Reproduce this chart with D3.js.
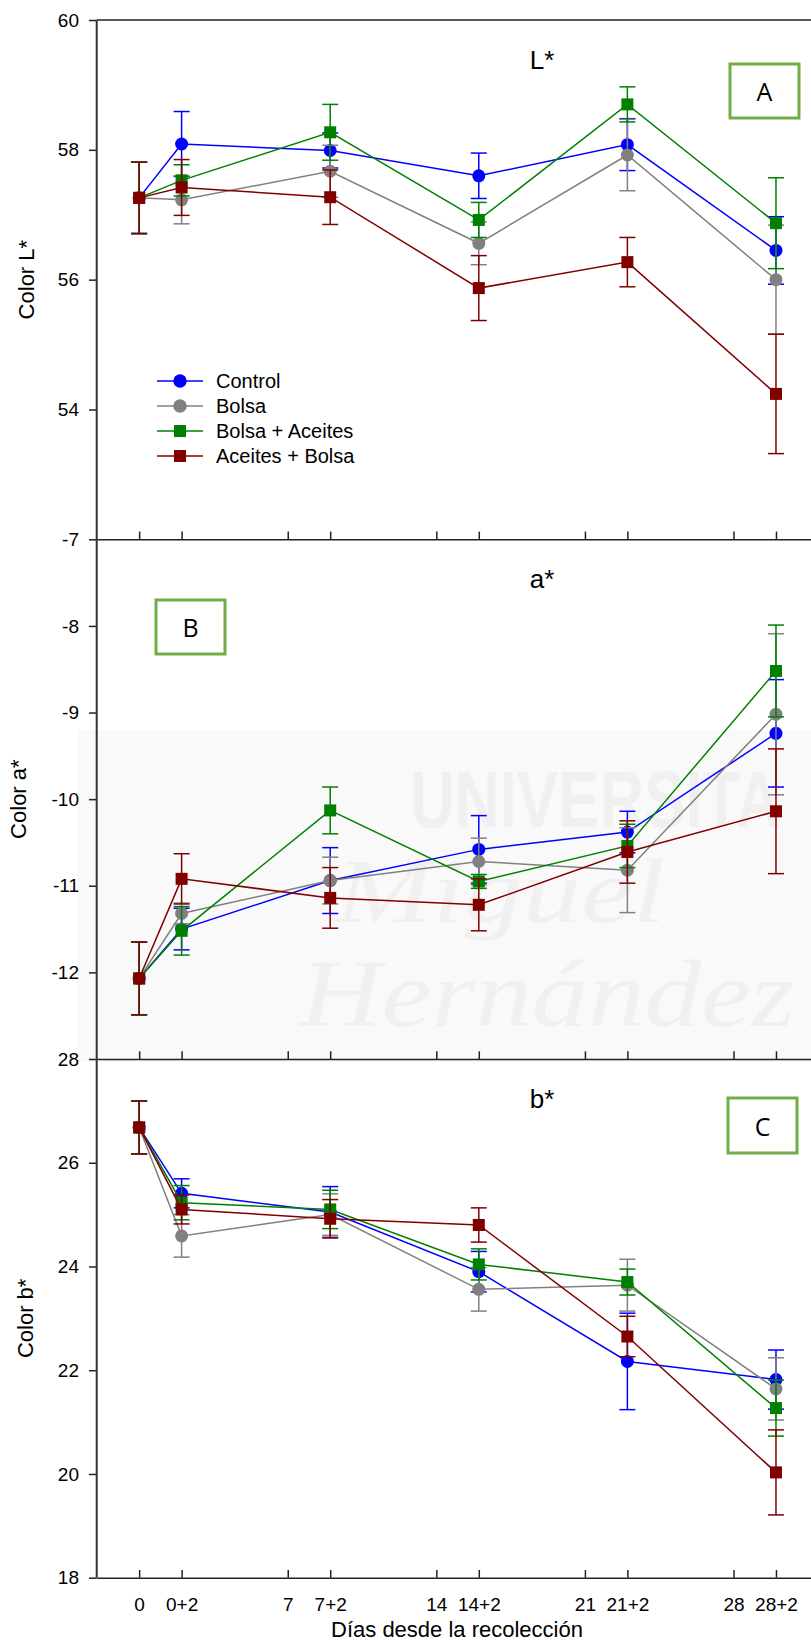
<!DOCTYPE html>
<html><head><meta charset="utf-8">
<script src="https://cdn.jsdelivr.net/npm/d3@7"></script>
<style>html,body{margin:0;padding:0;background:#fff}svg{display:block}text{font-family:"Liberation Sans",Arial,sans-serif}</style>
</head><body><svg id="chart" width="811" height="1640"></svg>
<script>
const days = [0, 2, 9, 16, 23, 30];
const seriesNames = ["Control", "Bolsa", "Bolsa + Aceites", "Aceites + Bolsa"];
const seriesColors = ["#0000ff", "#808080", "#008000", "#800000"];
const seriesShapes = ["circle", "circle", "square", "square"];
const xTickValues = [0, 2, 7, 9, 14, 16, 21, 23, 28, 30];
const xTickLabels = ["0", "0+2", "7", "7+2", "14", "14+2", "21", "21+2", "28", "28+2"];

const L_control = [57.26, 58.09, 57.99, 57.60, 58.08, 56.45];
const L_bolsa   = [57.26, 57.23, 57.67, 56.56, 57.92, 56.00];
const L_bolsaAc = [57.26, 57.53, 58.27, 56.92, 58.70, 56.87];
const L_acBolsa = [57.26, 57.42, 57.27, 55.87, 56.27, 54.24];
const L_control_err = [0.55, 0.50, 0.27, 0.35, 0.40, 0.52];
const L_bolsa_err   = [0.55, 0.37, 0.40, 0.33, 0.55, 0.84];
const L_bolsaAc_err = [0.55, 0.24, 0.43, 0.27, 0.27, 0.70];
const L_acBolsa_err = [0.55, 0.43, 0.42, 0.50, 0.38, 0.92];

const a_control = [-12.07, -11.50, -10.94, -10.58, -10.38, -9.24];
const a_bolsa   = [-12.07, -11.32, -10.94, -10.72, -10.82, -9.02];
const a_bolsaAc = [-12.07, -11.52, -10.13, -10.95, -10.54, -8.52];
const a_acBolsa = [-12.07, -10.92, -11.14, -11.22, -10.61, -10.14];
const a_control_err = [0.42, 0.24, 0.38, 0.39, 0.24, 0.62];
const a_bolsa_err   = [0.42, 0.12, 0.27, 0.27, 0.49, 0.93];
const a_bolsaAc_err = [0.42, 0.28, 0.27, 0.08, 0.25, 0.53];
const a_acBolsa_err = [0.42, 0.29, 0.35, 0.30, 0.36, 0.72];

const b_control = [26.68, 25.41, 25.05, 23.90, 22.17, 21.82];
const b_bolsa   = [26.68, 24.59, 25.00, 23.56, 23.64, 21.64];
const b_bolsaAc = [26.68, 25.23, 25.10, 24.04, 23.70, 21.27];
const b_acBolsa = [26.68, 25.10, 24.92, 24.80, 22.65, 20.03];
const b_control_err = [0.51, 0.28, 0.49, 0.39, 0.93, 0.57];
const b_bolsa_err   = [0.51, 0.41, 0.40, 0.42, 0.50, 0.60];
const b_bolsaAc_err = [0.51, 0.33, 0.37, 0.30, 0.25, 0.54];
const b_acBolsa_err = [0.51, 0.28, 0.37, 0.33, 0.39, 0.82];

const ticksL = [54, 56, 58, 60];
const ticksA = [-12, -11, -10, -9, -8, -7];
const ticksB = [18, 20, 22, 24, 26, 28];

const svg = d3.select("#chart");
const X0 = 96.7, X1 = 811;
const x = d3.scaleLinear().domain([-2, 31.65]).range([X0, X1]);

const panels = [
  {title: "L*", ylab: "Color L*", yl: 26, domain: [52, 60], range: [539.3, 20], ticks: ticksL,
   vals: [L_control, L_bolsa, L_bolsaAc, L_acBolsa], errs: [L_control_err, L_bolsa_err, L_bolsaAc_err, L_acBolsa_err],
   box: {letter: "A", x: 730, y: 64, w: 69, h: 54}},
  {title: "a*", ylab: "Color a*", yl: 18, domain: [-13, -7], range: [1059, 539.3], ticks: ticksA,
   vals: [a_control, a_bolsa, a_bolsaAc, a_acBolsa], errs: [a_control_err, a_bolsa_err, a_bolsaAc_err, a_acBolsa_err],
   box: {letter: "B", x: 156, y: 600, w: 69, h: 54}},
  {title: "b*", ylab: "Color b*", yl: 25, domain: [18, 28], range: [1577.7, 1059], ticks: ticksB,
   vals: [b_control, b_bolsa, b_bolsaAc, b_acBolsa], errs: [b_control_err, b_bolsa_err, b_bolsaAc_err, b_acBolsa_err],
   box: {letter: "C", x: 728, y: 1098, w: 69, h: 55}}
];

// watermark (very faint)
const wm = svg.append("g");
wm.append("rect").attr("x", 77).attr("y", 730).attr("width", 734).attr("height", 332).attr("fill", "#f9f9f9");
wm.append("text").attr("transform", "translate(410,827) scale(1,1.3)").attr("font-size", 62).attr("font-weight", "bold")
  .attr("fill", "#f0f0f0").text("UNIVERSITA");
wm.append("text").attr("x", 335).attr("y", 922).attr("font-size", 92).attr("font-style", "italic")
  .style("font-family", "'Liberation Serif',serif").attr("textLength", 330).attr("lengthAdjust", "spacingAndGlyphs")
  .attr("fill", "#f0f0f0").text("Miguel");
wm.append("text").attr("x", 300).attr("y", 1026).attr("font-size", 96).attr("font-style", "italic")
  .style("font-family", "'Liberation Serif',serif").attr("textLength", 495).attr("lengthAdjust", "spacingAndGlyphs")
  .attr("fill", "#f0f0f0").text("Hernández");

panels.forEach((p, pi) => {
  const y = d3.scaleLinear().domain(p.domain).range(p.range);
  const g = svg.append("g");
  const ya = g.append("g").attr("transform", `translate(${X0},0)`)
    .call(d3.axisLeft(y).tickValues(p.ticks).tickFormat(d => String(d)).tickSize(7.7).tickPadding(10));
  ya.select(".domain").remove();
  ya.selectAll(".tick line").attr("stroke", "#222").attr("stroke-width", 1.5);
  ya.selectAll("text").attr("font-size", 19).attr("fill", "#000").style("font-family", "'Liberation Sans',Arial,sans-serif");
  const xa = g.append("g").attr("transform", `translate(0,${p.range[0]})`)
    .call(d3.axisBottom(x).tickValues(xTickValues).tickSizeInner(-7.7).tickSizeOuter(0).tickPadding(20)
      .tickFormat((d, i) => pi === 2 ? xTickLabels[i] : ""));
  xa.select(".domain").attr("stroke", "#222").attr("stroke-width", 1.5);
  xa.selectAll(".tick line").attr("stroke", "#222").attr("stroke-width", 1.5);
  xa.selectAll("text").attr("font-size", 19).attr("fill", "#000").style("font-family", "'Liberation Sans',Arial,sans-serif");
  if (pi === 0) g.append("line").attr("x1", X0).attr("x2", X1).attr("y1", p.range[1]).attr("y2", p.range[1])
    .attr("stroke", "#222").attr("stroke-width", 1.5);
  g.append("text").attr("x", 542).attr("y", p.range[1] + 49).attr("text-anchor", "middle").attr("font-size", 26).text(p.title);
  g.append("text").attr("transform", `translate(${p.yl},${(p.range[0] + p.range[1]) / 2}) rotate(-90)`)
    .attr("text-anchor", "middle").attr("dominant-baseline", "central").attr("font-size", 22).text(p.ylab);
  g.append("rect").attr("x", p.box.x).attr("y", p.box.y).attr("width", p.box.w).attr("height", p.box.h)
    .attr("fill", "none").attr("stroke", "#70ad47").attr("stroke-width", 3);
  g.append("text").attr("x", p.box.x + p.box.w / 2).attr("y", p.box.y + p.box.h / 2).attr("text-anchor", "middle")
    .attr("dominant-baseline", "central").attr("font-size", 25).style("font-family", "'Open Sans','Noto Sans',sans-serif").text(p.box.letter);
  p.vals.forEach((vals, si) => {
    const col = seriesColors[si];
    const sg = g.append("g");
    const pts = days.map((d, i) => ({d, v: vals[i], e: p.errs[si][i]}));
    sg.append("path").datum(pts).attr("fill", "none").attr("stroke", col).attr("stroke-width", 1.5)
      .attr("d", d3.line().x(q => x(q.d)).y(q => y(q.v)));
    const eb = sg.selectAll(".eb").data(pts).enter().append("g").attr("stroke", col).attr("stroke-width", 1.5);
    eb.append("line").attr("x1", q => x(q.d)).attr("x2", q => x(q.d)).attr("y1", q => y(q.v + q.e)).attr("y2", q => y(q.v - q.e));
    eb.append("line").attr("x1", q => x(q.d) - 8).attr("x2", q => x(q.d) + 8).attr("y1", q => y(q.v + q.e)).attr("y2", q => y(q.v + q.e));
    eb.append("line").attr("x1", q => x(q.d) - 8).attr("x2", q => x(q.d) + 8).attr("y1", q => y(q.v - q.e)).attr("y2", q => y(q.v - q.e));
    if (seriesShapes[si] === "circle") {
      sg.selectAll(".m").data(pts).enter().append("circle").attr("cx", q => x(q.d)).attr("cy", q => y(q.v)).attr("r", 6.5).attr("fill", col);
    } else {
      sg.selectAll(".m").data(pts).enter().append("rect").attr("x", q => x(q.d) - 6).attr("y", q => y(q.v) - 6)
        .attr("width", 12).attr("height", 12).attr("fill", col);
    }
  });
});

svg.append("line").attr("x1", X0).attr("x2", X0).attr("y1", 20).attr("y2", 1577.7).attr("stroke", "#333").attr("stroke-width", 2);

svg.append("text").attr("x", 457).attr("y", 1629).attr("text-anchor", "middle").attr("dominant-baseline", "central")
  .attr("font-size", 22).text("Días desde la recolección");

const lg = svg.append("g");
seriesNames.forEach((n, i) => {
  const yy = 381 + i * 25;
  lg.append("line").attr("x1", 157).attr("x2", 203).attr("y1", yy).attr("y2", yy).attr("stroke", seriesColors[i]).attr("stroke-width", 1.5);
  if (seriesShapes[i] === "circle") lg.append("circle").attr("cx", 180).attr("cy", yy).attr("r", 6.7).attr("fill", seriesColors[i]);
  else lg.append("rect").attr("x", 174).attr("y", yy - 6).attr("width", 12).attr("height", 12).attr("fill", seriesColors[i]);
  lg.append("text").attr("x", 216).attr("y", yy).attr("dominant-baseline", "central").attr("font-size", 20).text(n);
});
</script></body></html>
